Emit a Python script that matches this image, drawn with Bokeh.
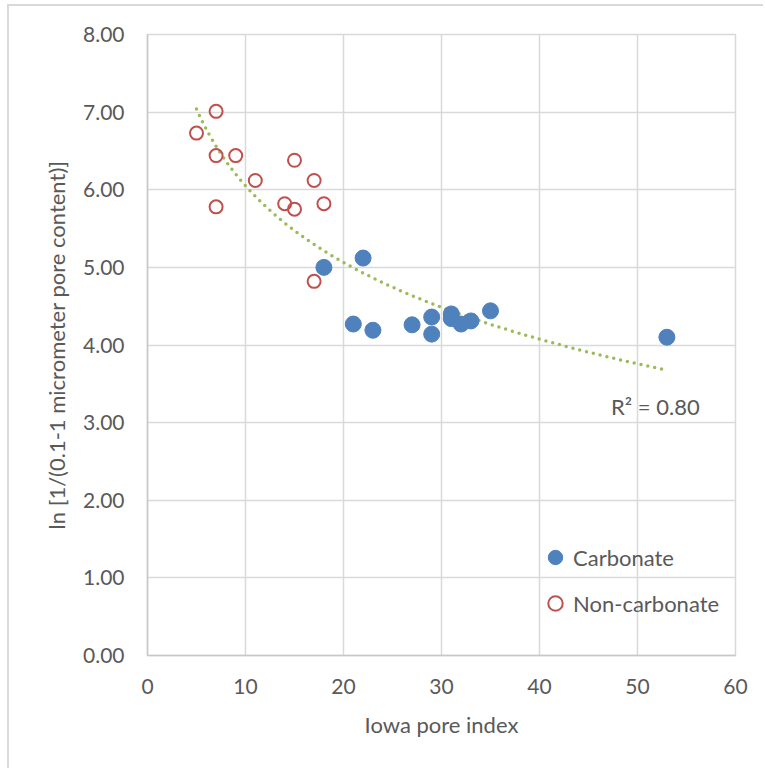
import numpy as np
from bokeh.plotting import figure
from bokeh.models import (Range1d, FixedTicker, PrintfTickFormatter, Legend, LegendItem, Label)
from bokeh.embed import file_html
from bokeh.resources import INLINE

# ---- data ----
carb_x = [18, 22, 21, 23, 27, 29, 29, 31, 31, 32, 33, 35, 53]
carb_y = [5.00, 5.12, 4.27, 4.19, 4.26, 4.36, 4.14, 4.40, 4.34, 4.27, 4.31, 4.44, 4.10]
noncarb_x = [5, 7, 7, 9, 15, 11, 17, 7, 14, 15, 18, 17]
noncarb_y = [6.73, 7.01, 6.44, 6.44, 6.38, 6.12, 6.12, 5.78, 5.82, 5.75, 5.82, 4.82]
x_ticks = [0, 10, 20, 30, 40, 50, 60]
y_ticks = [0, 1, 2, 3, 4, 5, 6, 7, 8]
r2_text = "R\u00b2 = 0.80"

FONT = "Lato"
TXT = "#595959"
GRID = "#d9d9d9"

# logarithmic trendline fitted to all points
all_x = np.array(carb_x + noncarb_x, dtype=float)
all_y = np.array(carb_y + noncarb_y, dtype=float)
b, a = np.polyfit(np.log(all_x), all_y, 1)
tx = np.linspace(all_x.min(), all_x.max(), 300)
ty = a + b * np.log(tx)

p = figure(width=756, height=764, output_backend="svg", toolbar_location=None,
           x_range=Range1d(0, 60), y_range=Range1d(0, 8),
           min_border_left=138, min_border_top=28, min_border_right=30, min_border_bottom=115)
p.styles = {"margin-left": "7px", "margin-top": "4px",
            "border-left": "2px solid #d9d9d9", "border-top": "2px solid #d9d9d9"}
p.background_fill_color = "white"
p.border_fill_color = "white"
p.outline_line_color = GRID
p.outline_line_width = 1.5

for ax in (p.xaxis[0], p.yaxis[0]):
    ax.axis_line_color = "#c8c8c8"
    ax.axis_line_width = 1.5
    ax.major_tick_out = 0
    ax.major_tick_in = 0
    ax.minor_tick_out = 0
    ax.minor_tick_in = 0
    ax.major_label_text_font = FONT
    ax.major_label_text_font_size = "21px"
    ax.major_label_text_color = TXT
    ax.axis_label_text_font = FONT
    ax.axis_label_text_font_size = "22px"
    ax.axis_label_text_font_style = "normal"
    ax.axis_label_text_color = TXT

p.xaxis.ticker = FixedTicker(ticks=x_ticks)
p.yaxis.ticker = FixedTicker(ticks=y_ticks)
p.yaxis.formatter = PrintfTickFormatter(format="%.2f")
p.xaxis.major_label_standoff = 23
p.yaxis.major_label_standoff = 23
p.xaxis.axis_label = "Iowa pore index"
p.yaxis.axis_label = "ln [1/(0.1-1 micrometer pore content)]"
p.xaxis.axis_label_standoff = 14
p.yaxis.axis_label_standoff = 10

p.xgrid.ticker = FixedTicker(ticks=x_ticks)
p.ygrid.ticker = FixedTicker(ticks=y_ticks)
for g in (p.xgrid[0], p.ygrid[0]):
    g.grid_line_color = GRID
    g.grid_line_width = 1.5

trend = p.line(tx, ty, line_color="#9BBB59", line_width=3.5, line_dash="0 7", line_cap="round")
r_nc = p.scatter(noncarb_x, noncarb_y, marker="circle", size=13, fill_color=None,
                 line_color="#C0504D", line_width=2)
r_c = p.scatter(carb_x, carb_y, marker="circle", size=16, fill_color="#4F81BD",
                line_color="#4F81BD", line_width=1)

lab = Label(x=47.3, y=3.21, text=r2_text, text_baseline="middle", text_align="left",
            text_font=FONT, text_font_size="22px", text_color=TXT)
p.add_layout(lab)

legend = Legend(items=[LegendItem(label="Carbonate", renderers=[r_c]),
                       LegendItem(label="Non-carbonate", renderers=[r_nc])],
                location=(390, 33), orientation="vertical",
                padding=0, margin=0, spacing=8, glyph_width=36, glyph_height=38,
                label_height=38, label_standoff=0,
                label_text_font=FONT, label_text_font_size="22px", label_text_color=TXT,
                border_line_color=None, background_fill_alpha=0)
p.add_layout(legend)

open("out.html", "w").write(file_html(p, INLINE))
